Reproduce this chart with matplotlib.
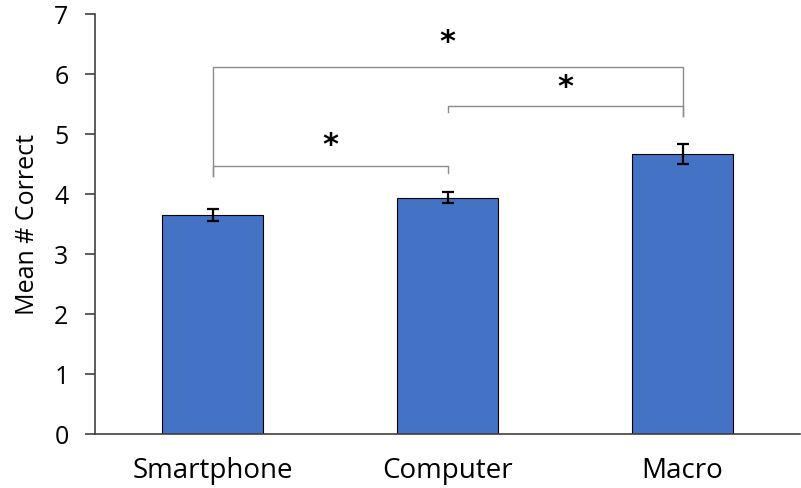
import matplotlib
matplotlib.use("Agg")
import matplotlib.pyplot as plt

categories = ["Smartphone", "Computer", "Macro"]
means = [3.65, 3.94, 4.67]
errors = [0.10, 0.085, 0.17]

# significance brackets: (left bar, right bar, line y, left leg bottom, right leg bottom, star y)
brackets = [
    (0, 1, 4.47, 4.30, 4.35, 4.83),
    (1, 2, 5.47, 5.37, 5.30, 5.79),
    (0, 2, 6.12, 4.30, 5.30, 6.54),
]

plt.rcParams['font.family'] = ['Open Sans', 'DejaVu Sans']

fig = plt.figure(figsize=(8.01, 4.89), dpi=100)
ax = fig.add_axes([95 / 801, 54 / 489, 705 / 801, 420 / 489])

x = list(range(len(categories)))
ax.bar(x, means, width=0.43, color="#4472C4", edgecolor="black", linewidth=0.8, zorder=2)
ax.errorbar(x, means, yerr=errors, fmt="none", ecolor="black", elinewidth=1.6,
            capsize=4, capthick=1.6, zorder=3)

for i, j, yl, bl, br, ys in brackets:
    ax.plot([i, i, j, j], [bl, yl, yl, br], color="#8c8c8c", linewidth=1.0, zorder=1)
    ax.text((i + j) / 2, ys, "*", ha="center", va="center", fontsize=22,
            fontweight="bold", family="DejaVu Sans", color="black")

ax.set_xlim(-0.5, 2.5)
ax.set_ylim(0, 7)
ax.set_yticks(range(8))
ax.set_xticks(x)
ax.set_xticklabels(categories)
ax.tick_params(axis="x", length=0, pad=16, labelsize=20)
ax.tick_params(axis="y", length=7, width=1.2, color="#404040", pad=12, labelsize=18)
ax.set_ylabel("Mean # Correct", fontsize=18, labelpad=10)

for s in ["top", "right"]:
    ax.spines[s].set_visible(False)
for s in ["left", "bottom"]:
    ax.spines[s].set_color("#404040")
    ax.spines[s].set_linewidth(1.2)

fig.savefig("out.png", dpi=100)
